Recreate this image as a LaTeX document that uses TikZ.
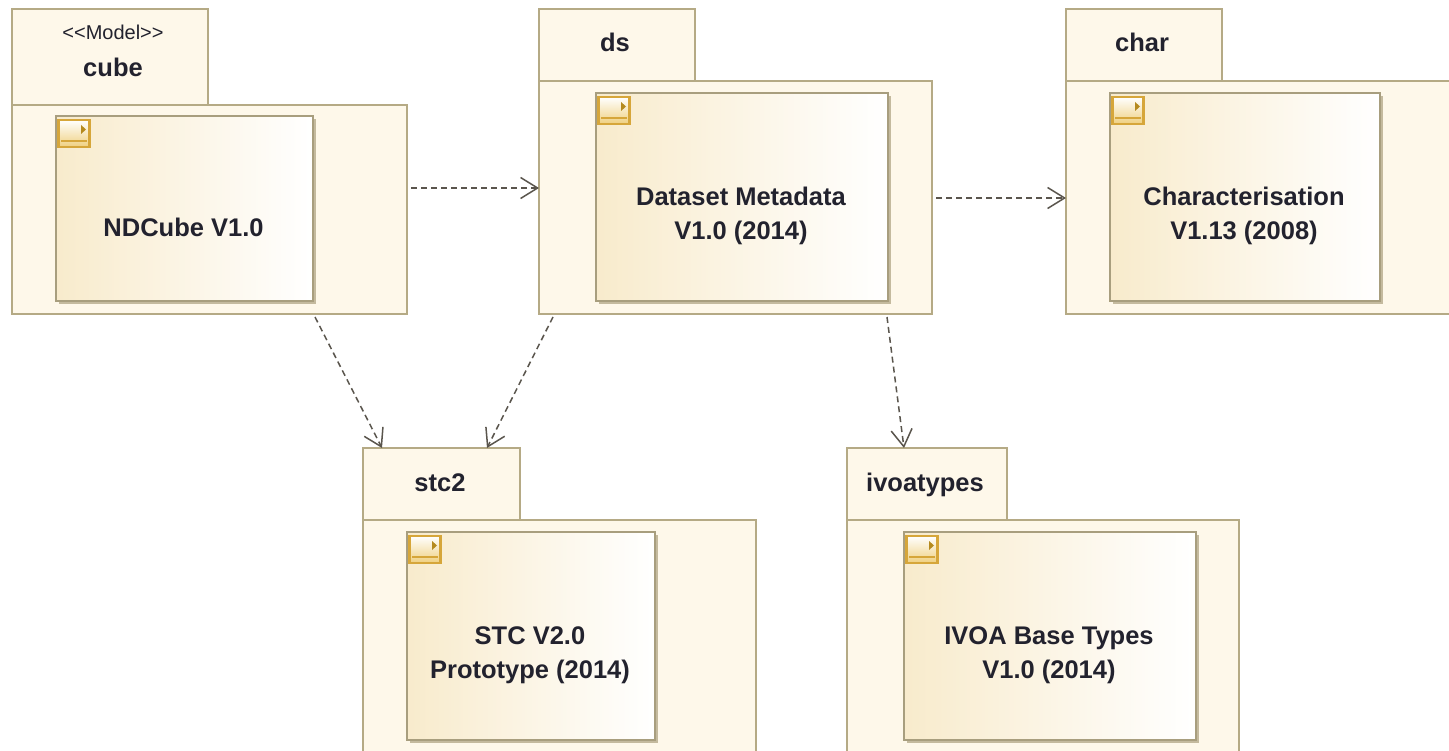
\documentclass[tikz,border=0pt]{standalone}
\usepackage{fontspec}
\setmainfont{Liberation Sans}
\usetikzlibrary{arrows.meta,shadings}
\definecolor{pkgfill}{HTML}{FEF8EA}
\definecolor{pkgline}{HTML}{B5AA85}
\definecolor{innerline}{HTML}{A89E7E}
\definecolor{shadowc}{HTML}{C4BA9E}
\definecolor{gradl}{HTML}{F8EBCC}
\definecolor{iconline}{HTML}{D6A63A}
\definecolor{icontri}{HTML}{B58A1E}
\definecolor{iconlow}{HTML}{EFD080}
\definecolor{inkc}{HTML}{22222E}
\definecolor{depc}{HTML}{5A554D}
\tikzset{
  pkgbox/.style={draw=pkgline,fill=pkgfill,line width=1.8pt,rectangle,anchor=north west,inner sep=0pt,outer sep=0pt},
  innerbox/.style={draw=innerline,line width=1.8pt,rectangle,anchor=north west,inner sep=0pt,outer sep=0pt,left color=gradl,right color=white},
  innerlabel/.style={align=center,text=inkc,inner sep=0pt,font=\bfseries\fontsize{25.5}{33.5}\selectfont},
  pkglabel/.style={text=inkc,font=\bfseries\fontsize{25.5}{30}\selectfont,inner sep=0pt,anchor=base},
  stereolabel/.style={text=inkc,font=\fontsize{20}{24}\selectfont,inner sep=0pt,anchor=base},
  iconbox/.style={draw=iconline,line width=2.4pt,rectangle,anchor=north west,inner sep=0pt,outer sep=0pt,minimum width=31pt,minimum height=27pt,top color=white,bottom color=iconlow},
  dep/.style={draw=depc,line width=1.5pt,dash pattern=on 6pt off 4pt,-{Straight Barb[length=17pt,width=21pt,line width=1.5pt]}},
}
% #1 name, #2 x, #3 tab top, #4 tab width, #5 body top, #6 body width, #7 body height
\newcommand{\pkgshape}[7]{%
  \node[pkgbox,minimum width=#4pt,minimum height=#5pt-#3pt] (#1tab) at (#2,#3) {};
  \node[pkgbox,minimum width=#6pt,minimum height=#7pt] (#1) at (#2,#5) {};
}
% #1 name, #2 x, #3 y, #4 w, #5 h, #6 text
\newcommand{\innershape}[6]{%
  \fill[shadowc] (#2+3,#3+3) rectangle (#2+#4+3,#3+#5+3);
  \node[innerbox,minimum width=#4pt,minimum height=#5pt] (#1) at (#2,#3) {};
  \node[innerlabel] (#1label) at (#2+#4/2-1,#3+#5/2+19) {#6};
  \node[iconbox] (#1icon) at (#2+2.5,#3+4) {};
  \fill[icontri] (#2+25,#3+9) -- (#2+30,#3+13.5) -- (#2+25,#3+18) -- cycle;
  \draw[iconline,line width=1.4pt] (#2+5,#3+25) -- (#2+31,#3+25);
}
\begin{document}
\begin{tikzpicture}[x=1pt,y=-1pt]
\clip (0,0) rectangle (1449,751);
\fill[white] (0,0) rectangle (1449,751);
% packages
\pkgshape{cube}{12}{9}{196}{105}{395}{209}
\pkgshape{ds}{539}{9}{156}{81}{393}{233}
\pkgshape{char}{1066}{9}{156}{81}{393}{233}
\pkgshape{stc}{363}{448}{157}{520}{393}{240}
\pkgshape{ivoa}{847}{448}{160}{520}{392}{240}
% tab labels
\node[stereolabel] (cubestereo) at (113,40) {{<}{<}Model{>}{>}};
\node[pkglabel] (cubelabel) at (113,76.5) {cube};
\node[pkglabel] (dslabel) at (615,51.5) {ds};
\node[pkglabel] (charlabel) at (1142,51.5) {char};
\node[pkglabel] (stclabel) at (440,491) {stc2};
\node[pkglabel] (ivoalabel) at (925,491) {ivoatypes};
% inner boxes
\innershape{cubeinner}{56}{116}{257}{185}{NDCube V1.0}
\innershape{dsinner}{596}{93}{292}{208}{Dataset Metadata\\V1.0 (2014)}
\innershape{charinner}{1110}{93}{270}{208}{Characterisation\\V1.13 (2008)}
\innershape{stcinner}{407}{532}{248}{208}{STC V2.0\\Prototype (2014)}
\innershape{ivoainner}{904}{532}{292}{208}{IVOA Base Types\\V1.0 (2014)}
% dependencies
\draw[dep] ([xshift=4pt,yshift=21.5pt]cube.east) -- ([yshift=9.5pt]ds.west);
\draw[dep] ([xshift=4pt,yshift=-0.5pt]ds.east) -- ([yshift=-0.5pt]char.west);
\draw[dep] ([xshift=303pt,yshift=-3pt]cube.south west) -- ([xshift=19pt]stctab.north west);
\draw[dep] ([xshift=14pt,yshift=-3pt]ds.south west) -- ([xshift=124pt]stctab.north west);
\draw[dep] ([xshift=348pt,yshift=-3pt]ds.south west) -- ([xshift=57pt]ivoatab.north west);
\end{tikzpicture}
\end{document}
